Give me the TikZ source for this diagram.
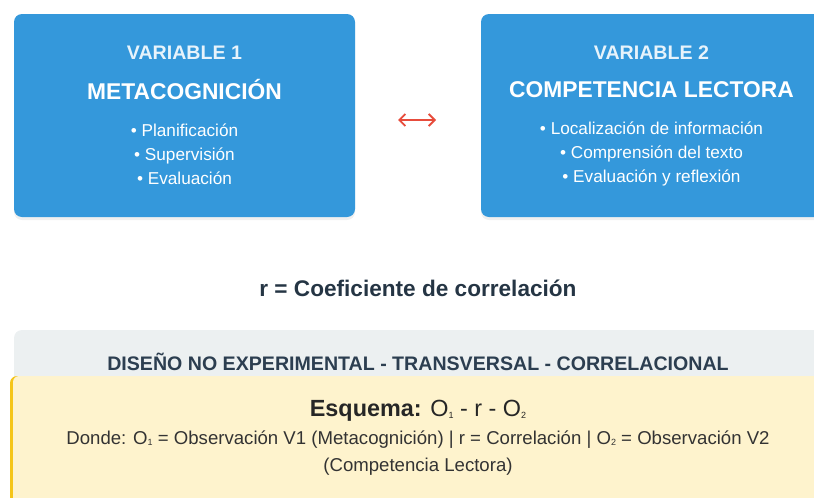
\documentclass[tikz,border=0pt]{standalone}
\usepackage{fontspec}
\setmainfont{Liberation Sans}
\usetikzlibrary{positioning, shadows, arrows.meta}
\definecolor{varblue}{HTML}{3498DB}
\definecolor{slate}{HTML}{2C3E50}
\definecolor{panelgrey}{HTML}{ECF0F1}
\definecolor{notecream}{HTML}{FEF3CD}
\definecolor{notegold}{HTML}{F5C518}
\definecolor{arrred}{HTML}{E74C3C}
\newcommand{\fsz}[1]{\fontsize{#1}{#1}\selectfont}
\newcommand{\obsidx}[1]{\raisebox{-0.12ex}{\fontsize{9}{9}\selectfont #1}}

\begin{document}
\begin{tikzpicture}[x=1pt, y=-1pt,
			var/.style={rounded corners=8pt, fill=varblue, inner sep=0,
				minimum width=341pt, minimum height=203pt,
				drop shadow={opacity=0.12, shadow xshift=0pt, shadow yshift=-3pt}},
			vartag/.style={text=white!88!varblue, font=\bfseries\fsz{19.6}},
			varname/.style={text=white, font=\bfseries\fsz{22.8}},
			dims/.style={text=white, align=center, font=\fontsize{17.2}{24}\selectfont},
			arr/.style={{Straight Barb[length=6pt, width=12pt]}-{Straight Barb[length=6pt, width=12pt]}, draw=arrred, line width=1.8pt}]

			\useasboundingbox (0,0) rectangle (814,498);
			\clip (0,0) rectangle (814,498);

			\node[var] at (184.5, 115.5) (V1){};
			\node[var] at (651.5, 115.5) (V2){};

			\node[vartag] at (184.5, 53) (T1){VARIABLE 1};
			\node[varname] at (184.5, 90) (N1){METACOGNICIÓN};
			\node[dims] at (184.5, 154) (D1){• Planificación\\• Supervisión\\• Evaluación};

			\node[vartag] at (651.5, 53) (T2){VARIABLE 2};
			\node[varname] at (651.5, 90) (N2){COMPETENCIA LECTORA};
			\node[dims] at (651.5, 154) (D2){• Localización de información\\• Comprensión del texto\\• Evaluación y reflexión};

			\coordinate (AL) at (398, 120);
			\coordinate (AR) at (436, 120);
			\draw[arr] (AL) -- (AR);

			\node[text=slate!85!black, font=\bfseries\fsz{22.6}] at (418, 288) (R){r = Coeficiente de correlación};

			\fill[panelgrey, rounded corners=8pt] (14, 330) rectangle (840, 520);
			\node[text=slate, font=\bfseries\fsz{19.6}] at (418, 362) (DIS){DISEÑO NO EXPERIMENTAL - TRANSVERSAL - CORRELACIONAL};

			\fill[notegold, rounded corners=7pt] (10, 376) rectangle (840, 520);
			\fill[notecream, rounded corners=6pt] (13, 376) rectangle (840, 520);

			\node[text=black!85, font=\fsz{23.4}] at (418, 411) (ESQ){\textbf{Esquema:} O\obsidx{1} - r - O\obsidx{2}};
			\node[text=black!80, align=center, font=\fontsize{18.6}{27}\selectfont] at (418, 453) (DON)
				{Donde: O\obsidx{1} = Observación V1 (Metacognición) | r = Correlación | O\obsidx{2} = Observación V2\\(Competencia Lectora)};
		\end{tikzpicture}
\end{document}
